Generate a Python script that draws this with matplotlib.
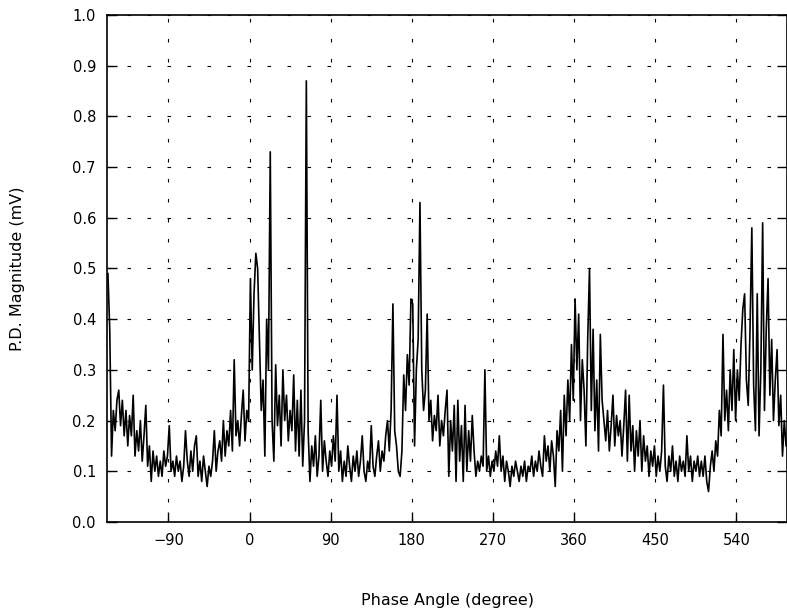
import numpy as np
import matplotlib.pyplot as plt

# phase angle samples every 2 degrees, -157 .. 595
fase = np.arange(-157, 596, 2)

magnitud = [
    # -157 .. -101
    0.49, 0.38, 0.13, 0.22, 0.18, 0.24, 0.26, 0.19, 0.24, 0.17,
    0.22, 0.15, 0.21, 0.17, 0.25, 0.13, 0.18, 0.14, 0.20, 0.12,
    0.17, 0.23, 0.11, 0.15, 0.08, 0.14, 0.10, 0.13, 0.09,
    # -99 .. -1
    0.12, 0.09, 0.14, 0.11, 0.13, 0.19, 0.10, 0.12, 0.09, 0.13,
    0.10, 0.12, 0.08, 0.11, 0.18, 0.12, 0.09, 0.14, 0.10, 0.15,
    0.17, 0.09, 0.12, 0.08, 0.13, 0.10, 0.07, 0.11, 0.09, 0.12,
    0.18, 0.10, 0.14, 0.16, 0.12, 0.20, 0.13, 0.18, 0.15, 0.22,
    0.14, 0.32, 0.17, 0.20, 0.15, 0.21, 0.26, 0.16, 0.22, 0.20,
    # 1 .. 99
    0.48, 0.30, 0.45, 0.53, 0.50, 0.36, 0.22, 0.28, 0.13, 0.40,
    0.30, 0.73, 0.20, 0.12, 0.31, 0.19, 0.25, 0.15, 0.30, 0.20,
    0.25, 0.16, 0.22, 0.18, 0.29, 0.14, 0.24, 0.13, 0.26, 0.11,
    0.20, 0.87, 0.18, 0.08, 0.15, 0.11, 0.17, 0.09, 0.13, 0.24,
    0.10, 0.16, 0.12, 0.09, 0.14, 0.11, 0.17, 0.12, 0.25, 0.10,
    # 101 .. 199
    0.14, 0.08, 0.12, 0.09, 0.15, 0.11, 0.08, 0.13, 0.10, 0.14,
    0.09, 0.12, 0.17, 0.10, 0.08, 0.12, 0.10, 0.19, 0.11, 0.09,
    0.13, 0.16, 0.10, 0.14, 0.12, 0.17, 0.20, 0.14, 0.22, 0.43,
    0.18, 0.15, 0.10, 0.09, 0.14, 0.29, 0.22, 0.33, 0.27, 0.44,
    0.43, 0.15, 0.30, 0.36, 0.63, 0.30, 0.22, 0.26, 0.41, 0.20,
    # 201 .. 299
    0.24, 0.16, 0.21, 0.18, 0.25, 0.15, 0.20, 0.17, 0.22, 0.26,
    0.09, 0.20, 0.14, 0.23, 0.08, 0.24, 0.12, 0.19, 0.08, 0.23,
    0.10, 0.18, 0.12, 0.21, 0.14, 0.09, 0.12, 0.10, 0.13, 0.11,
    0.30, 0.10, 0.13, 0.09, 0.12, 0.10, 0.14, 0.11, 0.17, 0.10,
    0.13, 0.08, 0.12, 0.10, 0.07, 0.11, 0.09, 0.12, 0.10, 0.08,
    # 301 .. 399
    0.11, 0.09, 0.12, 0.08, 0.11, 0.10, 0.13, 0.09, 0.12, 0.10,
    0.14, 0.11, 0.09, 0.17, 0.12, 0.15, 0.10, 0.16, 0.13, 0.07,
    0.18, 0.14, 0.22, 0.10, 0.25, 0.17, 0.28, 0.20, 0.35, 0.24,
    0.44, 0.30, 0.41, 0.20, 0.32, 0.26, 0.15, 0.36, 0.50, 0.22,
    0.38, 0.18, 0.28, 0.14, 0.37, 0.24, 0.20, 0.16, 0.22, 0.14,
    # 401 .. 499
    0.19, 0.25, 0.15, 0.21, 0.17, 0.20, 0.13, 0.19, 0.26, 0.12,
    0.25, 0.14, 0.19, 0.10, 0.18, 0.13, 0.20, 0.10, 0.17, 0.12,
    0.15, 0.09, 0.14, 0.11, 0.15, 0.09, 0.13, 0.10, 0.14, 0.27,
    0.11, 0.08, 0.13, 0.10, 0.15, 0.09, 0.12, 0.08, 0.13, 0.10,
    0.12, 0.09, 0.17, 0.10, 0.13, 0.08, 0.12, 0.10, 0.13, 0.09,
    # 501 .. 595
    0.12, 0.09, 0.13, 0.08, 0.06, 0.11, 0.14, 0.10, 0.16, 0.13,
    0.22, 0.17, 0.37, 0.20, 0.26, 0.18, 0.30, 0.22, 0.34, 0.20,
    0.30, 0.24, 0.35, 0.42, 0.45, 0.28, 0.23, 0.38, 0.58, 0.27,
    0.18, 0.45, 0.17, 0.30, 0.59, 0.22, 0.38, 0.48, 0.25, 0.36,
    0.20, 0.28, 0.34, 0.19, 0.25, 0.13, 0.20, 0.15,
]

xticks = [-90, 0, 90, 180, 270, 360, 450, 540]
yticks = np.arange(0, 1.01, 0.1)

plt.rcParams['font.family'] = 'DejaVu Sans'

fig = plt.figure(figsize=(7.87, 6.09), dpi=100)
ax = fig.add_axes([0.136, 0.1429, 0.864, 0.8325])

ax.plot(fase, magnitud, color='black', linewidth=1.2)

ax.set_xlim(-158, 596)
ax.set_ylim(0, 1.0)
ax.set_xticks(xticks)
ax.set_xticklabels([str(t).replace('-', '\u2212') for t in xticks])
ax.set_yticks(yticks)
ax.set_yticklabels([f'{t:.1f}' for t in yticks])

ax.grid(True, color='black', linewidth=0.8, linestyle=(0, (3.2, 14.8)))
ax.tick_params(axis='both', direction='in', length=7, width=1.0,
               labelsize=10.5, pad=8, right=True)
for s in ax.spines.values():
    s.set_linewidth(1.2)

ax.set_xlabel('Phase Angle (degree)', fontsize=11.5)
ax.set_ylabel('P.D. Magnitude (mV)', fontsize=11.5)
ax.xaxis.set_label_coords(0.5, -0.14)
ax.yaxis.set_label_coords(-0.12, 0.5)

plt.savefig('out.png', dpi=100)
